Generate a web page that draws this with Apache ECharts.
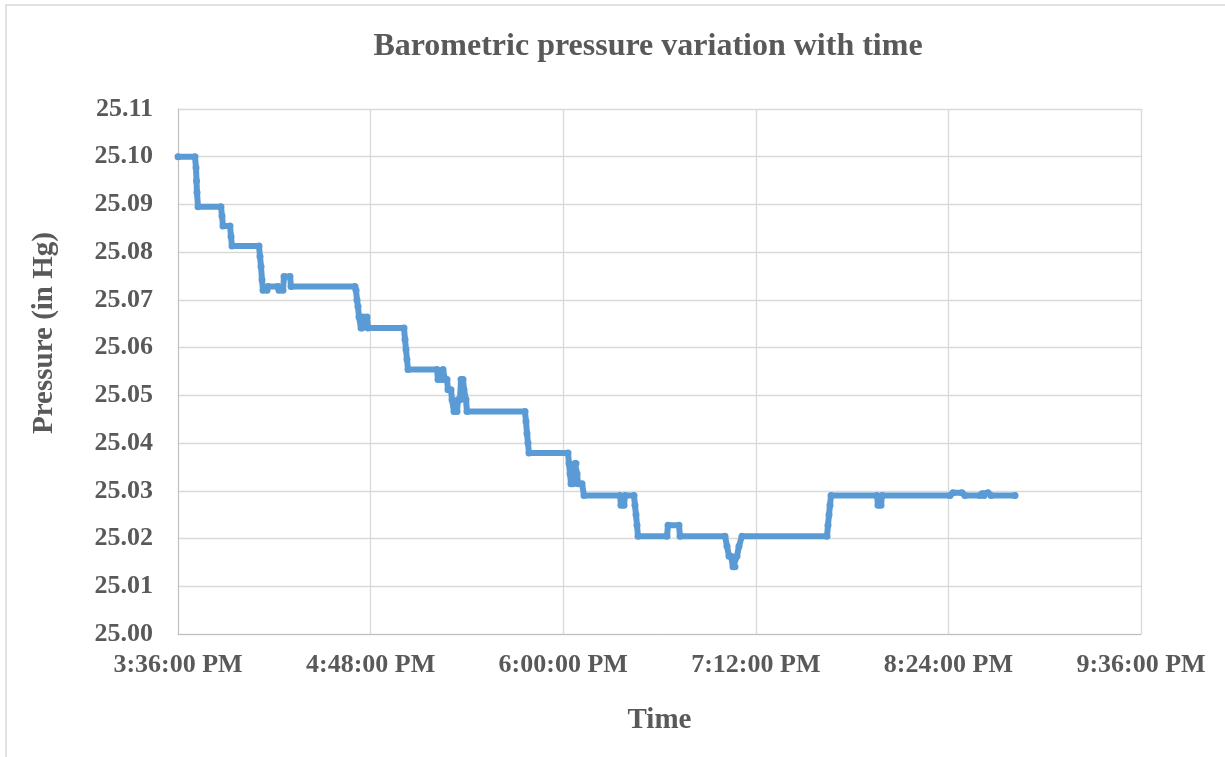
<!DOCTYPE html>
<html>
<head>
<meta charset="utf-8">
<title>Barometric pressure variation with time</title>
<script src="https://cdn.jsdelivr.net/npm/echarts@6/dist/echarts.min.js"></script>
<style>
  html, body { margin: 0; padding: 0; background: #ffffff; }
  #chart { width: 1225px; height: 757px; }
</style>
</head>
<body>
<div id="chart"></div>
<script>
// Logged readings: clock time (24 h) and barometric pressure in inches of mercury
const times = [
  "15:36:00", "15:42:21", "15:42:44", "15:42:55", "15:43:06", "15:43:29",
  "15:52:04", "15:52:27", "15:52:49", "15:55:26", "15:55:49", "15:56:11",
  "16:06:17", "16:06:39", "16:07:02", "16:07:24", "16:07:47", "16:09:16",
  "16:09:39", "16:13:23", "16:13:45", "16:15:15", "16:15:38", "16:17:52",
  "16:18:15", "16:42:10", "16:42:33", "16:42:55", "16:43:17", "16:43:40",
  "16:44:25", "16:44:47", "16:45:10", "16:46:39", "16:47:02", "17:00:29",
  "17:00:52", "17:01:14", "17:01:36", "17:01:59", "17:12:49", "17:13:12",
  "17:14:42", "17:15:04", "17:15:49", "17:16:34", "17:16:56", "17:18:03",
  "17:18:26", "17:19:11", "17:20:18", "17:20:40", "17:21:25", "17:21:48",
  "17:22:33", "17:22:55", "17:23:40", "17:24:02", "17:45:43", "17:46:06",
  "17:46:28", "17:46:50", "17:47:13", "18:01:48", "18:02:10", "18:02:33",
  "18:02:55", "18:03:40", "18:04:02", "18:04:25", "18:04:47", "18:05:10",
  "18:05:32", "18:07:02", "18:07:47", "18:21:14", "18:21:36", "18:22:44",
  "18:23:06", "18:26:28", "18:26:50", "18:27:13", "18:27:35", "18:27:58",
  "18:38:48", "18:39:11", "18:43:17", "18:43:40", "19:00:29", "19:01:14",
  "19:01:59", "19:02:44", "19:03:29", "19:04:13", "19:04:58", "19:05:43",
  "19:06:50", "19:38:37", "19:38:59", "19:39:22", "19:39:44", "19:40:07",
  "19:57:18", "19:57:41", "19:58:48", "19:59:11", "20:24:36", "20:25:43",
  "20:29:05", "20:30:12", "20:35:49", "20:36:34", "20:37:18", "20:38:48",
  "20:39:56", "20:48:54"
];
const pressure = [
  25.1000, 25.1000, 25.0977, 25.0949, 25.0925, 25.0895,
  25.0895, 25.0876, 25.0855, 25.0855, 25.0833, 25.0813,
  25.0813, 25.0791, 25.0770, 25.0742, 25.0720, 25.0720,
  25.0728, 25.0728, 25.0720, 25.0720, 25.0749, 25.0749,
  25.0728, 25.0728, 25.0720, 25.0700, 25.0686, 25.0664,
  25.0641, 25.0641, 25.0664, 25.0664, 25.0641, 25.0641,
  25.0617, 25.0596, 25.0575, 25.0554, 25.0554, 25.0533,
  25.0533, 25.0554, 25.0533, 25.0533, 25.0512, 25.0512,
  25.0491, 25.0466, 25.0466, 25.0491, 25.0491, 25.0533,
  25.0533, 25.0512, 25.0491, 25.0466, 25.0466, 25.0445,
  25.0420, 25.0400, 25.0379, 25.0379, 25.0357, 25.0336,
  25.0315, 25.0315, 25.0336, 25.0357, 25.0357, 25.0336,
  25.0315, 25.0315, 25.0290, 25.0290, 25.0270, 25.0270,
  25.0290, 25.0290, 25.0270, 25.0250, 25.0228, 25.0205,
  25.0205, 25.0228, 25.0228, 25.0205, 25.0205, 25.0184,
  25.0163, 25.0163, 25.0141, 25.0141, 25.0163, 25.0184,
  25.0205, 25.0205, 25.0228, 25.0250, 25.0270, 25.0290,
  25.0290, 25.0270, 25.0270, 25.0290, 25.0290, 25.0296,
  25.0296, 25.0290, 25.0290, 25.0294, 25.0290, 25.0296,
  25.0290, 25.0290
];

// Axis range and tick spacing (seconds since midnight): 3:36 PM to 9:36 PM every 72 min
const xStart = "15:36:00";
const xEnd = "21:36:00";
const xStepMinutes = 72;
const yMin = 25.00, yMax = 25.11, yStep = 0.01;

const titleText = "Barometric pressure variation with time";
const xTitle = "Time";
const yTitle = "Pressure (in Hg)";

function toSeconds(s) {
  const p = s.split(":").map(Number);
  return p[0] * 3600 + p[1] * 60 + p[2];
}
function clockLabel(sec) {
  const h24 = Math.floor(sec / 3600);
  const m = Math.floor((sec % 3600) / 60);
  const s = Math.round(sec % 60);
  const ampm = h24 >= 12 ? "PM" : "AM";
  let h = h24 % 12; if (h === 0) h = 12;
  return h + ":" + String(m).padStart(2, "0") + ":" + String(s).padStart(2, "0") + " " + ampm;
}

const seriesData = times.map((t, i) => [toSeconds(t), pressure[i]]);

const textColor = "#595959";
const serif = "'Liberation Serif', 'Times New Roman', serif";

const chart = echarts.init(document.getElementById("chart"), null, { renderer: "canvas" });
chart.setOption({
  backgroundColor: "#ffffff",
  animation: false,
  title: {
    text: titleText,
    left: 643,
    top: 26,
    textAlign: "center",
    textStyle: { fontFamily: serif, fontWeight: "bold", fontSize: 32, color: textColor }
  },
  grid: { left: 178, right: 84, top: 109, bottom: 123, containLabel: false },
  xAxis: {
    type: "value",
    min: toSeconds(xStart),
    max: toSeconds(xEnd),
    interval: xStepMinutes * 60,
    name: xTitle,
    nameLocation: "middle",
    nameGap: 72,
    nameTextStyle: { fontFamily: serif, fontWeight: "bold", fontSize: 29, color: textColor },
    axisLine: { show: true, lineStyle: { color: "#bfbfbf", width: 1 } },
    axisTick: { show: false },
    axisLabel: {
      formatter: v => clockLabel(v),
      fontFamily: serif, fontWeight: "bold", fontSize: 26, color: textColor, margin: 18
    },
    splitLine: { show: true, lineStyle: { color: "#d9d9d9", width: 1.3 } }
  },
  yAxis: {
    type: "value",
    min: yMin,
    max: yMax,
    interval: yStep,
    axisLine: { show: true, lineStyle: { color: "#bfbfbf", width: 1 } },
    axisTick: { show: false },
    axisLabel: {
      formatter: v => v.toFixed(2),
      fontFamily: serif, fontWeight: "bold", fontSize: 26, color: textColor, margin: 25
    },
    splitLine: { show: true, lineStyle: { color: "#d9d9d9", width: 1.3 } }
  },
  graphic: [
    {
      type: "rect",
      shape: { x: 6, y: 5, width: 1240, height: 800 },
      style: { fill: "none", stroke: "#d9d9d9", lineWidth: 1.5 },
      silent: true, z: -1
    },
    {
      type: "text",
      x: 45, y: 333,
      rotation: Math.PI / 2,
      style: {
        text: yTitle, fill: textColor,
        font: "bold 29px " + serif,
        textAlign: "center", textVerticalAlign: "middle"
      }
    }
  ],
  series: [{
    type: "line",
    data: seriesData,
    showSymbol: true,
    symbol: "circle",
    symbolSize: 7,
    itemStyle: { color: "#5b9bd5" },
    lineStyle: { color: "#5b9bd5", width: 6, join: "round", cap: "round" },
    emphasis: { disabled: true }
  }]
});
</script>
</body>
</html>
